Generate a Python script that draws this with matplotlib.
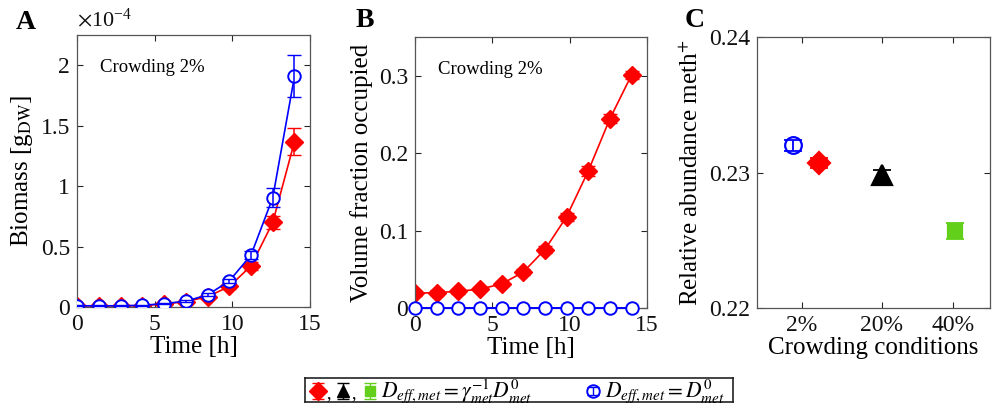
import numpy as np
import matplotlib
matplotlib.use('Agg')
import matplotlib.pyplot as plt
from matplotlib.ticker import FuncFormatter

plt.rcParams['font.family'] = ['Liberation Serif', 'DejaVu Serif']
plt.rcParams['mathtext.fontset'] = 'stix'

# data
time_h = [0, 1.4, 2.8, 4.2, 5.6, 7.0, 8.4, 9.8, 11.2, 12.6, 14.0]

# biomass in units of 1e-4 gDW
biomass_crowd = [0.01, 0.01, 0.01, 0.012, 0.025, 0.045, 0.085, 0.17, 0.34, 0.70, 1.37]
biomass_crowd_err = [0.01, 0.01, 0.01, 0.01, 0.01, 0.01, 0.015, 0.02, 0.03, 0.055, 0.11]
biomass_free = [0.01, 0.01, 0.01, 0.014, 0.028, 0.048, 0.10, 0.215, 0.43, 0.905, 1.91]
biomass_free_err = [0.005, 0.005, 0.005, 0.005, 0.006, 0.008, 0.012, 0.02, 0.035, 0.08, 0.175]

volfrac_crowd = [0.019, 0.020, 0.0215, 0.0245, 0.031, 0.0465, 0.0755, 0.118, 0.177, 0.2445, 0.301]
volfrac_crowd_err = [0.003, 0.003, 0.003, 0.003, 0.003, 0.004, 0.004, 0.005, 0.006, 0.006, 0.005]
volfrac_free = [0, 0, 0, 0, 0, 0, 0, 0, 0, 0, 0]

crowd_ticks = ['2%', '20%', '40%']
crowd_tick_pos = [0.193, 0.536, 0.841]
abund_x = [0.155, 0.266, 0.536, 0.85]
abund_y = [0.2320, 0.2307, 0.2298, 0.2257]
abund_err = [0.0004, 0.0004, 0.0004, 0.0006]
abund_marker = ['o', 'D', '^', 's']
abund_color = ['#0000ff', '#ff0000', '#000000', '#62d01a']
abund_size = [12, 11, 14, 10]

RED = '#ff0000'
BLUE = '#0000ff'
AXC = '#262626'
fmt = FuncFormatter(lambda v, p: '%g' % v)

fig = plt.figure(figsize=(10.03, 4.15), dpi=100)
axA = fig.add_axes([0.0768, 0.2602, 0.2323, 0.655])
axB = fig.add_axes([0.4138, 0.2578, 0.2313, 0.653])
axC = fig.add_axes([0.7547, 0.2578, 0.2323, 0.653])

for ax in (axA, axB, axC):
    for s in ax.spines.values():
        s.set_color('#555555')
        s.set_linewidth(0.9)
    ax.tick_params(direction='in', top=True, right=True, labelsize=17,
                   colors=AXC, labelcolor='#111111', length=4, width=0.8, pad=5)
    ax.yaxis.set_major_formatter(fmt)

ms_d = 9
ms_o = 9

# Panel A
axA.errorbar(time_h, biomass_crowd, yerr=biomass_crowd_err, color=RED, marker='D',
             ms=ms_d, lw=1.2, capsize=5, elinewidth=1.1, zorder=2)
axA.plot(time_h, biomass_free, color=BLUE, marker='o', ms=ms_o, mfc='white',
         mew=1.4, lw=1.2, zorder=3)
axA.errorbar(time_h, biomass_free, yerr=biomass_free_err, fmt='none', ecolor=BLUE,
             capsize=5, elinewidth=1.1, zorder=4)
axA.set_xlim(0, 15)
axA.set_ylim(0, 2.25)
axA.set_xticks([0, 5, 10, 15])
axA.set_yticks([0, 0.5, 1, 1.5, 2])
axA.set_xlabel('Time [h]', fontsize=18, labelpad=1)
axA.set_ylabel('Biomass [g$_{\\mathrm{DW}}$]', fontsize=18, labelpad=4)
axA.text(0.1, 0.865, 'Crowding 2%', transform=axA.transAxes, fontsize=13.5)
axA.text(0.0, 1.015, r'$\times\mathregular{10^{-4}}$', transform=axA.transAxes,
         fontsize=16, color='#111111', ha='left', va='bottom')
fig.text(0.026, 0.945, 'A', fontsize=20, fontweight='bold', ha='center', va='center')

# Panel B
axB.errorbar(time_h, volfrac_crowd, yerr=volfrac_crowd_err, color=RED, marker='D',
             ms=ms_d, lw=1.2, capsize=5, elinewidth=1.1, zorder=2)
axB.plot(time_h, volfrac_free, color=BLUE, marker='o', ms=ms_o, mfc='white',
         mew=1.4, lw=1.4, zorder=3, clip_on=False)
axB.set_xlim(0, 15)
axB.set_ylim(0, 0.35)
axB.set_xticks([0, 5, 10, 15])
axB.set_yticks([0, 0.1, 0.2, 0.3])
axB.set_xlabel('Time [h]', fontsize=18, labelpad=1)
axB.set_ylabel('Volume fraction occupied', fontsize=18, labelpad=4)
axB.text(0.1, 0.865, 'Crowding 2%', transform=axB.transAxes, fontsize=13.5)
fig.text(0.364, 0.95, 'B', fontsize=20, fontweight='bold', ha='center', va='center')

# Panel C
for xv, yv, ev, mk, c, sz in zip(abund_x, abund_y, abund_err, abund_marker,
                                 abund_color, abund_size):
    face = 'white' if mk == 'o' else c
    axC.plot([xv], [yv], marker=mk, ms=sz, color=c, mfc=face,
             mew=1.6, ls='none', zorder=3)
    axC.errorbar([xv], [yv], yerr=[ev], fmt='none', ecolor=c, capsize=6.5,
                 elinewidth=1.3, capthick=1.3, zorder=4 if mk != '^' else 2)
axC.set_xlim(0, 1)
axC.set_ylim(0.22, 0.24)
axC.set_xticks(crowd_tick_pos)
axC.set_xticklabels(crowd_ticks)
axC.set_yticks([0.22, 0.23, 0.24])
axC.set_xlabel('Crowding conditions', fontsize=18, labelpad=1)
axC.set_ylabel('Relative abundance meth$^{+}$', fontsize=18, labelpad=4)
fig.text(0.693, 0.95, 'C', fontsize=20, fontweight='bold', ha='center', va='center')

# legend box at the bottom
axL = fig.add_axes([0.304, 0.031, 0.427, 0.058])
axL.set_xlim(0, 428)
axL.set_ylim(0, 24)
axL.set_xticks([])
axL.set_yticks([])
for s in axL.spines.values():
    s.set_color('#222222')
    s.set_linewidth(1.2)
leg_x = [13, 38, 65]
leg_m = ['D', '^', 's']
leg_c = [RED, '#000000', '#62d01a']
for xv, mk, c in zip(leg_x, leg_m, leg_c):
    axL.plot([xv], [11], marker=mk, ms=9 if mk != 's' else 6.5, color=c, ls='none')
    axL.errorbar([xv], [11], yerr=[8], fmt='none', ecolor=c, capsize=4, elinewidth=1)
axL.text(21, 4, ',', fontsize=13)
axL.text(46, 4, ',', fontsize=13)
axL.text(76, 11, r'$D_{eff,met}=\gamma_{met}^{-1}D_{met}^{0}$', fontsize=15.5,
         va='center', ha='left')
axL.plot([288], [11], marker='o', ms=9, color=BLUE, mfc='white', mew=1.4, ls='none')
axL.errorbar([288], [11], yerr=[4], fmt='none', ecolor=BLUE, capsize=4, elinewidth=1)
axL.text(300, 11, r'$D_{eff,met}=D_{met}^{0}$', fontsize=15.5, va='center', ha='left')

fig.savefig('out.png', dpi=100)
